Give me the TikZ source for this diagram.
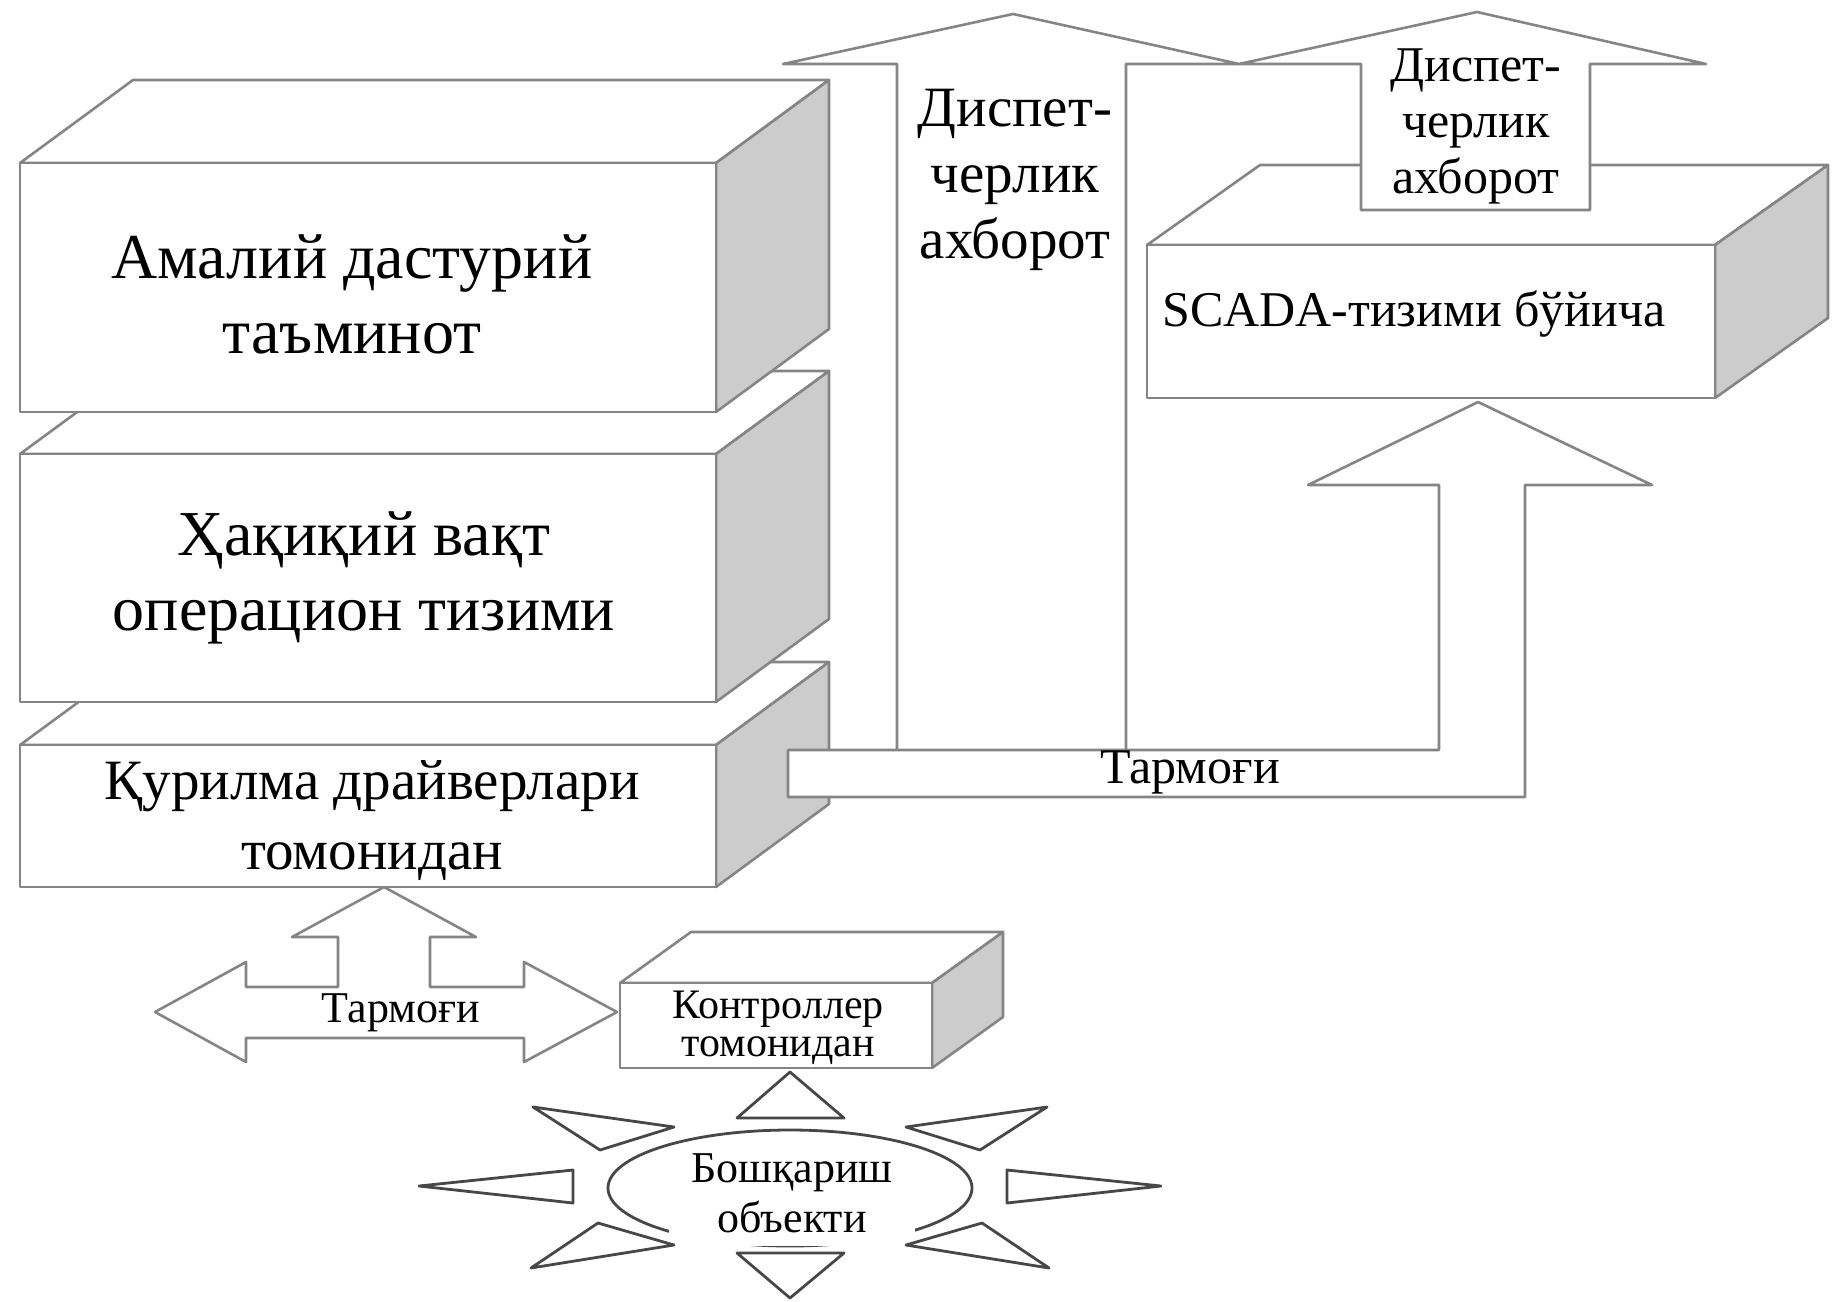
\documentclass[tikz,border=0pt]{standalone}
\usepackage{fontspec}
\setmainfont{Liberation Serif}
\usetikzlibrary{positioning}

\begin{document}
\begin{tikzpicture}[x=1pt, y=-1pt, line join=round,
  edge/.style={draw=black!48, line width=2.6pt},
  face/.style={edge, fill=white},
  side/.style={edge, fill=black!20},
  ray/.style={draw=black!72, line width=2.8pt, fill=white},
  big/.style={font=\fontsize{64}{75}\selectfont, align=center, inner sep=0pt},
  disp/.style={font=\fontsize{57}{66}\selectfont, align=center, inner sep=0pt},
  mid/.style={font=\fontsize{50}{56}\selectfont, align=center, inner sep=0pt},
  small/.style={font=\fontsize{44}{50}\selectfont, align=center, inner sep=0pt}]
\useasboundingbox (0,0) rectangle (1835,1301);

\foreach \t/\b in {745/887, 454/702, 163/412}{
  \draw[face] (20,\t) -- (133,\t-83) -- (829,\t-83) -- (716,\t) -- cycle;
  \draw[side] (716,\t) -- (829,\t-83) -- (829,\b-83) -- (716,\b) -- cycle;
  \draw[face] (20,\t) rectangle (716,\b);
}
\node[big] (app) at (352,294) {Амалий дастурий\\таъминот};
\node[big] (rtos) at (364,578) {Ҳақиқий вақт\\операцион тизими};
\node[big, font=\fontsize{57}{70}\selectfont] (drv) at (372,820) {Қурилма драйверлари\\томонидан};

\draw[face] (897,750) -- (897,64) -- (783,64) -- (1013,14) -- (1239,64) -- (1126,64) -- (1126,750);
\draw[face] (788,750) -- (1439,750) -- (1439,485) -- (1308,485) -- (1478,402) -- (1652,485)
  -- (1525,485) -- (1525,797) -- (788,797) -- cycle;
\node[disp] (disp1) at (1015,180) {Диспет-\\черлик\\ахборот};
\node[mid] (net1) at (1190,772) {Тармоғи};

\draw[face] (1147,245) -- (1260,165) -- (1828,165) -- (1715,245) -- cycle;
\draw[side] (1715,245) -- (1828,165) -- (1828,318) -- (1715,398) -- cycle;
\draw[face] (1147,245) rectangle (1715,398);
\node[mid] (scada) at (1414,314) {SCADA-тизими бўйича};

\draw[face] (1361,210) -- (1361,64) -- (1239,64) -- (1477,12) -- (1706,64) -- (1590,64) -- (1590,210) -- cycle;
\node[mid] (disp2) at (1476,126) {Диспет-\\черлик\\ахборот};

\draw[face] (155,1012) -- (246,962) -- (246,987) -- (338,987) -- (338,937) -- (292,937) -- (384,887)
  -- (476,937) -- (430,937) -- (430,987) -- (524,987) -- (524,962) -- (617,1012) -- (524,1062)
  -- (524,1038) -- (246,1038) -- (246,1062) -- cycle;
\node[small] (net2) at (401,1013) {Тармоғи};

\draw[face] (620,983) -- (691,932) -- (1003,932) -- (932,983) -- cycle;
\draw[side] (932,983) -- (1003,932) -- (1003,1017) -- (932,1068) -- cycle;
\draw[face] (620,983) rectangle (932,1068);
\node[small, font=\fontsize{42}{38}\selectfont] (ctrl) at (778,1028) {Контроллер\\томонидан};

\draw[ray] (790,1188) ellipse [x radius=182, y radius=58];
\node[small, fill=white, inner xsep=22pt] (obj) at (792,1200) {Бошқариш\\объекти\rule[-14pt]{0pt}{1pt}};
\draw[ray] (790,1072) -- (737,1118) -- (844,1118) -- cycle;
\draw[ray] (790,1298) -- (737,1253) -- (844,1253) -- cycle;
\foreach \s in {1,-1}{
  \draw[ray] (790+\s*217,1170) -- (790+\s*371,1186) -- (790+\s*217,1203) -- cycle;
  \draw[ray] (790+\s*116,1127) -- (790+\s*257,1107) -- (790+\s*190,1150) -- cycle;
  \draw[ray] (790+\s*116,1245) -- (790+\s*259,1268) -- (790+\s*192,1223) -- cycle;
}
\end{tikzpicture}
\end{document}
